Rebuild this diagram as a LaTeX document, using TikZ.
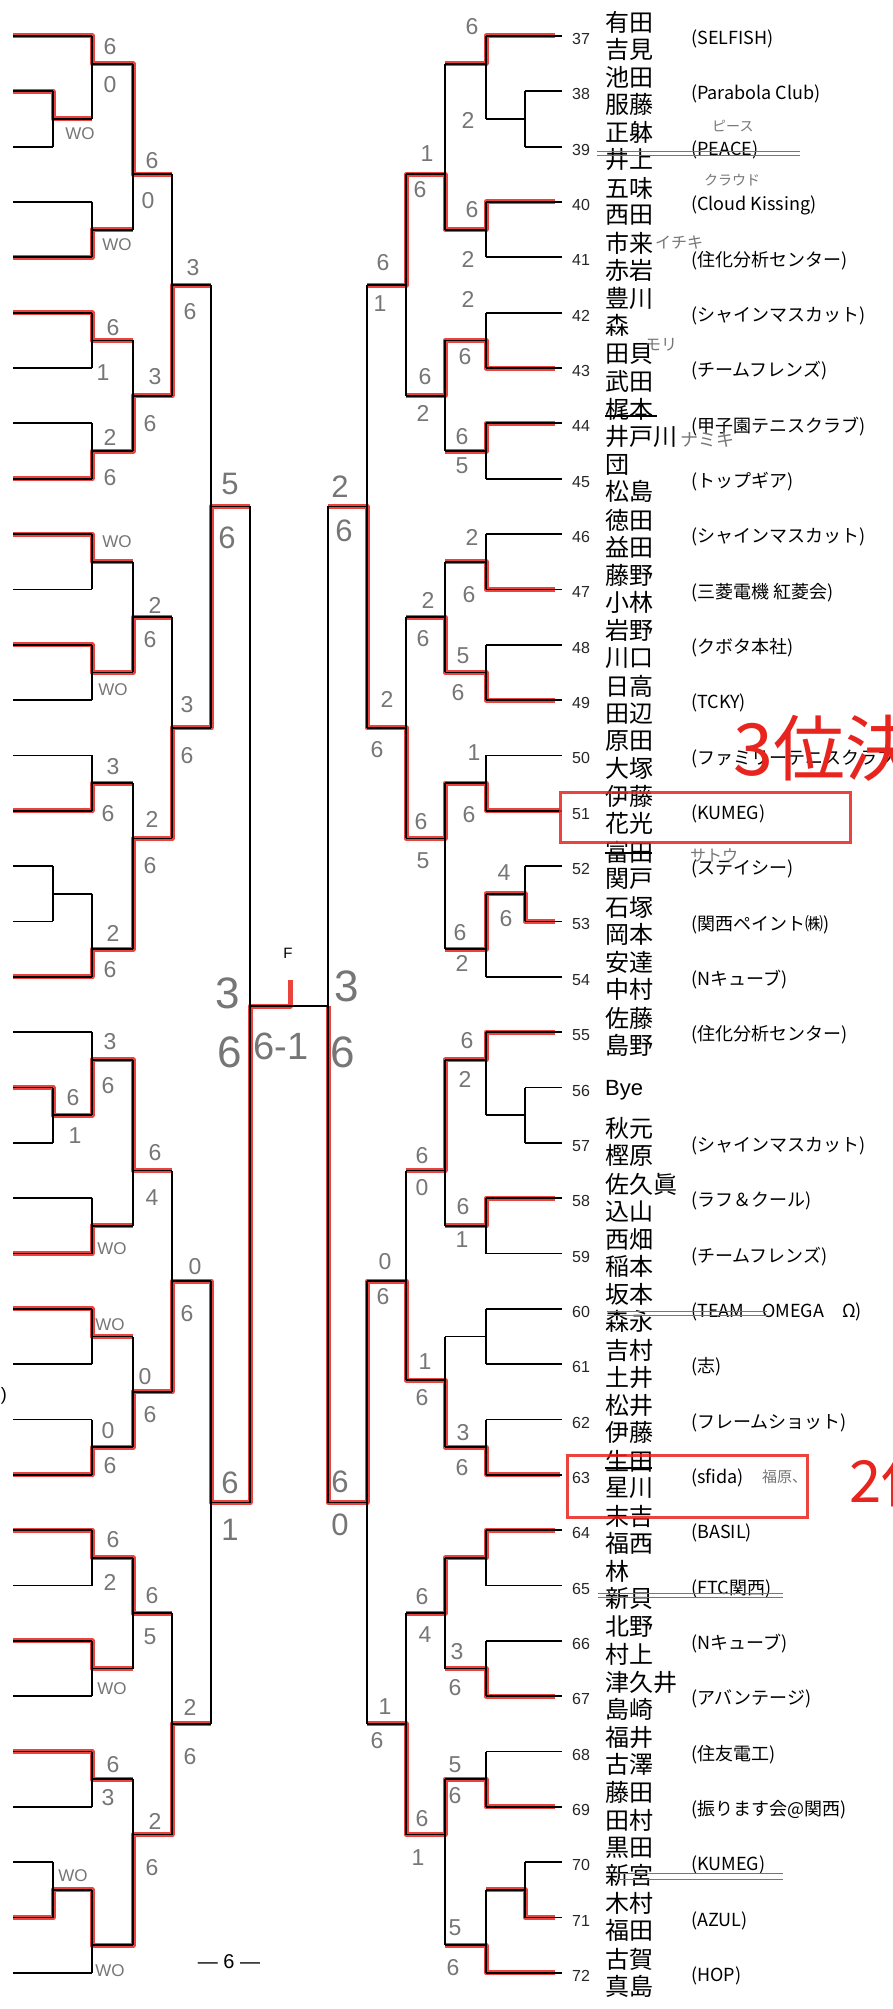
\documentclass[tikz,border=0pt]{standalone}
\usepackage{fontspec}
\setmainfont{Liberation Sans}
\newfontfamily\jp{Noto Sans CJK JP}
\definecolor{mkred}{RGB}{232,36,30}
\definecolor{pencil}{RGB}{118,118,118}
\def\jn(#1,#2,#3,#4,#5){\draw[ln] (#1,#2) -- (#1,#3) (#1,#4) -- (#5,#4);}

\tikzset{
  ln/.style={line width=1.8pt},
  hl/.style={line width=5pt, draw=mkred, line join=round, opacity=.85},
  sc/.style={text=pencil, inner sep=0pt, font=\fontsize{23}{23}\selectfont},
  scb/.style={sc, font=\fontsize{31}{31}\selectfont},
  scf/.style={sc, font=\fontsize{44}{44}\selectfont},
  wo/.style={sc, font=\fontsize{17}{17}\selectfont},
  num/.style={anchor=west, inner sep=0pt, text=black!85, font=\fontsize{16}{16}\selectfont},
  nm/.style={anchor=west, inner sep=0pt, font=\jp\fontsize{24}{24}\selectfont},
  tm/.style={anchor=west, inner sep=0pt, font=\jp\fontsize{18}{18}\selectfont},
  memo/.style={anchor=west, inner sep=0pt, text=pencil, font=\jp\fontsize{16}{16}\selectfont},
  strike/.style={draw=pencil, line width=0.9pt},
  boxr/.style={draw=mkred, line width=3pt, opacity=.85},
}

\begin{document}
\begin{tikzpicture}[x=1pt,y=-1pt]
%%%%% START %%%%%
\fill[white] (0,0) rectangle (893,2009);
\useasboundingbox (0,0) rectangle (893,2009);

% winners in red
\draw[hl] (13,36.0) -- (92,36.0) -- (92,63.7) -- (133,63.7) -- (133,174.4) -- (172,174.4);
\draw[hl] (13,91.3) -- (53,91.3) -- (53,119.0) -- (92,119.0);
\draw[hl] (13,257.4) -- (92,257.4) -- (92,229.7) -- (133,229.7);
\draw[hl] (13,312.7) -- (92,312.7) -- (92,340.4) -- (133,340.4);
\draw[hl] (13,478.7) -- (92,478.7) -- (92,451.1) -- (133,451.1) -- (133,395.7) -- (172,395.7) -- (172,285.0) -- (211,285.0);
\draw[hl] (13,534.1) -- (92,534.1) -- (92,561.7) -- (133,561.7);
\draw[hl] (13,644.7) -- (92,644.7) -- (92,672.4) -- (133,672.4) -- (133,617.1) -- (172,617.1);
\draw[hl] (13,810.8) -- (92,810.8) -- (92,783.1) -- (133,783.1);
\draw[hl] (13,976.8) -- (92,976.8) -- (92,949.1) -- (133,949.1) -- (133,838.4) -- (172,838.4) -- (172,727.8) -- (211,727.8) -- (211,506.4) -- (250,506.4);
\draw[hl] (13,1087.5) -- (53,1087.5) -- (53,1115.2) -- (92,1115.2) -- (92,1059.8) -- (133,1059.8) -- (133,1170.5) -- (172,1170.5);
\draw[hl] (13,1253.5) -- (92,1253.5) -- (92,1225.8) -- (133,1225.8);
\draw[hl] (13,1308.8) -- (92,1308.8) -- (92,1336.5) -- (133,1336.5);
\draw[hl] (13,1474.8) -- (92,1474.8) -- (92,1447.2) -- (133,1447.2) -- (133,1391.8) -- (172,1391.8) -- (172,1281.2) -- (211,1281.2) -- (211,1502.5) -- (250,1502.5) -- (250,1006) -- (290,1006) -- (290,980);
\draw[hl] (13,1530.2) -- (92,1530.2) -- (92,1557.9) -- (133,1557.9) -- (133,1613.2) -- (172,1613.2);
\draw[hl] (13,1640.9) -- (92,1640.9) -- (92,1668.5) -- (133,1668.5);
\draw[hl] (13,1751.5) -- (92,1751.5) -- (92,1779.2) -- (133,1779.2);
\draw[hl] (13,1917.6) -- (53,1917.6) -- (53,1889.9) -- (92,1889.9) -- (92,1945.3) -- (133,1945.3) -- (133,1834.5) -- (172,1834.5) -- (172,1723.9) -- (211,1723.9);

\draw[hl] (555,36.0) -- (486,36.0) -- (486,63.7) -- (445,63.7);
\draw[hl] (555,202.0) -- (486,202.0) -- (486,229.7) -- (445,229.7) -- (445,174.4) -- (406,174.4) -- (406,285.0) -- (367,285.0);
\draw[hl] (555,368.0) -- (486,368.0) -- (486,340.4) -- (445,340.4) -- (445,395.7) -- (406,395.7);
\draw[hl] (555,423.4) -- (486,423.4) -- (486,451.1) -- (445,451.1);
\draw[hl] (555,589.4) -- (486,589.4) -- (486,561.7) -- (445,561.7);
\draw[hl] (555,700.1) -- (486,700.1) -- (486,672.4) -- (445,672.4) -- (445,617.1) -- (406,617.1);
\draw[hl] (560,810.8) -- (486,810.8) -- (486,783.1) -- (445,783.1) -- (445,838.4) -- (406,838.4) -- (406,727.8) -- (367,727.8) -- (367,506.4) -- (328,506.4);
\draw[hl] (555,921.4) -- (525,921.4) -- (525,893.8) -- (486,893.8) -- (486,949.1) -- (445,949.1);
\draw[hl] (555,1032.1) -- (486,1032.1) -- (486,1059.8) -- (445,1059.8) -- (445,1170.5) -- (406,1170.5);
\draw[hl] (555,1198.1) -- (486,1198.1) -- (486,1225.8) -- (445,1225.8);
\draw[hl] (560,1474.8) -- (486,1474.8) -- (486,1447.2) -- (445,1447.2) -- (445,1380) -- (406,1380) -- (406,1281.2) -- (367,1281.2) -- (367,1502.5) -- (328,1502.5) -- (328,1006);
\draw[hl] (555,1530.2) -- (486,1530.2) -- (486,1557.9) -- (445,1557.9) -- (445,1613.2) -- (406,1613.2);
\draw[hl] (555,1696.2) -- (486,1696.2) -- (486,1668.5) -- (445,1668.5);
\draw[hl] (555,1806.9) -- (486,1806.9) -- (486,1779.2) -- (445,1779.2) -- (445,1834.5) -- (406,1834.5) -- (406,1723.9) -- (367,1723.9);
\draw[hl] (555,1917.6) -- (525,1917.6) -- (525,1889.9) -- (486,1889.9);
\draw[hl] (555,1972.9) -- (486,1972.9) -- (486,1945.3) -- (445,1945.3);

% draw lines, both halves (right half mirrored)
\foreach \k in {0,3,4,5,6,7,8,9,10,11,12,13,14,17,18,21,22,23,24,25,26,27,28,29,30,31,32,35}{
  \pgfmathsetmacro\yy{36+55.34*\k}
  \draw[ln] (13,\yy) -- (92,\yy) (486,\yy) -- (562,\yy);
}
\foreach \k in {1,2,15,16,19,20,33,34}{
  \pgfmathsetmacro\yy{36+55.34*\k}
  \draw[ln] (13,\yy) -- (53,\yy) (525,\yy) -- (562,\yy);
}
\foreach \a/\b/\c/\d/\e in {
  53/91.3/146.7/119.0/92, 53/866.1/921.4/893.8/92, 53/1087.5/1142.8/1115.2/92, 53/1862.2/1917.6/1889.9/92,
  92/36.0/119.0/63.7/133, 92/202.0/257.4/229.7/133, 92/312.7/368.0/340.4/133, 92/423.4/478.7/451.1/133,
  92/534.1/589.4/561.7/133, 92/644.7/700.1/672.4/133, 92/755.4/810.8/783.1/133, 92/893.8/976.8/949.1/133,
  92/1032.1/1115.2/1059.8/133, 92/1198.1/1253.5/1225.8/133, 92/1308.8/1364.2/1336.5/133, 92/1419.5/1474.8/1447.2/133,
  92/1530.2/1585.5/1557.9/133, 92/1640.9/1696.2/1668.5/133, 92/1751.5/1806.9/1779.2/133, 92/1889.9/1972.9/1945.3/133,
  133/63.7/229.7/174.4/172, 133/340.4/451.1/395.7/172, 133/561.7/672.4/617.1/172, 133/783.1/949.1/838.4/172,
  133/1059.8/1225.8/1170.5/172, 133/1557.9/1668.5/1613.2/172, 133/1779.2/1945.3/1834.5/172,
  172/174.4/395.7/285.0/211, 172/617.1/838.4/727.8/211, 172/1613.2/1834.5/1723.9/211,
  211/285.0/727.8/506.4/250, 211/1281.2/1723.9/1502.5/250}{
  \jn(\a,\b,\c,\d,\e)
  \jn(578-\a,\b,\c,\d,578-\e)
}
\jn(133,1336.5,1447.2,1391.8,172)
\jn(172,1170.5,1391.8,1281.2,211)
\jn(445,1336.5,1447.2,1380,406)
\jn(406,1170.5,1380,1281.2,367)
\draw[ln] (250,506.4) -- (250,1502.5) (328,506.4) -- (328,1502.5) (250,1006) -- (328,1006);
\node[font=\fontsize{15}{15}\selectfont, inner sep=0pt] (fin) at (288,953) {F};

% entries 37-72
\foreach \k/\no/\na/\nb/\tm in {
  0/37/有田/吉見/(SELFISH), 1/38/池田/服藤/(Parabola Club), 2/39/正躰/井上/(PEACE),
  3/40/五味/西田/(Cloud Kissing), 4/41/市来/赤岩/(住化分析センター), 5/42/豊川/森/(シャインマスカット),
  6/43/田貝/武田/(チームフレンズ), 7/44/梶本/井戸川/(甲子園テニスクラブ), 8/45/団/松島/(トップギア),
  9/46/徳田/益田/(シャインマスカット), 10/47/藤野/小林/(三菱電機 紅菱会), 11/48/岩野/川口/(クボタ本社),
  12/49/日高/田辺/(TCKY), 13/50/原田/大塚/(ファミリーテニスクラブ), 14/51/伊藤/花光/(KUMEG),
  15/52/富田/関戸/(ステイシー), 16/53/石塚/岡本/(関西ペイント㈱), 17/54/安達/中村/(Nキューブ),
  18/55/佐藤/島野/(住化分析センター), 20/57/秋元/樫原/(シャインマスカット), 21/58/佐久眞/込山/(ラフ＆クール),
  22/59/西畑/稲本/(チームフレンズ), 23/60/坂本/森永/(TEAM　OMEGA　Ω), 24/61/吉村/土井/(志),
  25/62/松井/伊藤/(フレームショット), 26/63/生田/星川/(sfida), 27/64/末吉/福西/(BASIL),
  28/65/林/新貝/(FTC関西), 29/66/北野/村上/(Nキューブ), 30/67/津久井/島崎/(アバンテージ),
  31/68/福井/古澤/(住友電工), 32/69/藤田/田村/(振ります会@関西), 33/70/黒田/新宮/(KUMEG),
  34/71/木村/福田/(AZUL), 35/72/古賀/真島/(HOP)}{
  \pgfmathsetmacro\yy{36+55.34*\k}
  \node[num] (no\no) at (572,\yy+3) {\no};
  \node[nm] (na\no) at (605,\yy-14) {\na};
  \node[nm] (nb\no) at (605,\yy+13) {\nb};
  \node[tm] (tm\no) at (691,\yy+3) {\tm};
}
\node[num] (no56) at (572,1090.5) {56};
\node[anchor=west, inner sep=0pt, font=\fontsize{22}{22}\selectfont] (bye) at (605,1090.5) {Bye};

% pencil scores
\foreach \x/\y/\lab [count=\i] in {
  110/47/6, 110/85/0, 152/161/6, 148/201/0, 113/328/6, 103/373/1, 110/437/2, 110/478/6,
  155/377/3, 150/424/6, 193/268/3, 190/312/6, 155/605/2, 150/640/6, 187/705/3, 187/756/6,
  113/767/3, 108/814/6, 152/819/2, 150/866/6, 113/933/2, 110/970/6, 110/1042/3, 108/1086/6,
  73/1098/6, 75/1136/1, 155/1153/6, 152/1198/4, 195/1267/0, 187/1314/6, 145/1377/0, 150/1415/6,
  108/1431/0, 110/1466/6, 113/1540/6, 110/1582/2, 152/1596/6, 150/1637/5, 190/1707/2, 190/1757/6,
  113/1765/6, 108/1798/3, 155/1821/2, 152/1868/6}
  \node[sc] (sl\i) at (\x,\y) {\lab};
\foreach \x/\y/\lab [count=\i] in {
  472/27/6, 468/120/2, 472/210/6, 468/259/2, 427/154/1, 420/190/6, 468/299/2, 465/357/6,
  462/437/6, 462/466/5, 425/377/6, 423/413/2, 383/263/6, 380/304/1, 472/537/2, 469/595/6,
  463/656/5, 458/693/6, 428/600/2, 423/639/6, 387/699/2, 377/750/6, 474/753/1, 469/815/6,
  421/822/6, 423/861/5, 504/873/4, 506/919/6, 460/933/6, 462/963/2,
  467/1041/6, 465/1079/2, 463/1207/6, 462/1240/1, 422/1156/6, 422/1188/0, 463/1433/3, 462/1468/6,
  425/1362/1, 422/1398/6, 385/1262/0, 383/1297/6, 457/1652/3, 455/1688/6, 422/1597/6, 425/1635/4,
  455/1765/5, 455/1796/6, 455/1928/5, 453/1968/6, 422/1819/6, 418/1858/1, 385/1707/1, 377/1741/6}
  \node[sc] (sr\i) at (\x,\y) {\lab};
\foreach \x/\y/\lab [count=\i] in {230/484/5, 227/538/6, 230/1483/6, 230/1530/1, 340/487/2, 344/531/6, 340/1482/6, 340/1525/0}
  \node[scb] (sb\i) at (\x,\y) {\lab};
\foreach \x/\y [count=\i] in {80/134, 117/245, 117/542, 113/690, 112/1249, 110/1325, 112/1689, 73/1876, 110/1971}
  \node[wo] (wo\i) at (\x,\y) {WO};
\node[scf] (fl3) at (228,993) {3};
\node[scf] (fl6) at (230,1052) {6};
\node[scf] (fr3) at (347,986) {3};
\node[scf] (fr6) at (343,1052) {6};
\node[sc, font=\fontsize{38}{38}\selectfont] (fsc) at (281,1046) {6-1};

% pencil notes and strike-outs
\node[memo, font=\jp\fontsize{14}{14}\selectfont] (m39) at (712,126) {ピース};
\node[memo, font=\jp\fontsize{14}{14}\selectfont] (m40) at (704,180) {クラウド};
\node[memo] (m41) at (655,243) {イチキ};
\node[memo] (m42) at (645,345) {モリ};
\node[memo, font=\jp\fontsize{18}{18}\selectfont] (m44) at (680,440) {ナミキ};
\node[memo] (m52) at (690,855) {サトウ};
\node[memo, font=\jp\fontsize{15}{15}\selectfont] (m63) at (762,1477) {福原、};
\draw[strike] (597,151) -- (800,151) (597,155.5) -- (800,155.5);
\draw[strike] (607,1311) -- (767,1311) (607,1315) -- (767,1315);
\draw[strike] (598,1593) -- (783,1593) (598,1597) -- (783,1597);
\draw[strike] (617,1873) -- (783,1873) (617,1879) -- (783,1879);
\draw[line width=1.5pt] (605,416) -- (657,416) (605,853) -- (652,853) (605,1468) -- (652,1468);

% red marks
\draw[boxr] (560,792) rectangle (850,842);
\draw[boxr] (567,1455) rectangle (807,1517);
\node[anchor=west, inner sep=0pt, text=mkred, font=\jp\fontsize{72}{72}\selectfont] (third) at (733,748) {3位決};
\node[anchor=west, inner sep=0pt, text=mkred, font=\jp\fontsize{58}{58}\selectfont] (second) at (849,1480) {2位};

\node[anchor=east, inner sep=0pt, font=\fontsize{18}{18}\selectfont] (cut) at (7,1396) {)};
\node[inner sep=0pt, font=\fontsize{20}{20}\selectfont] (page) at (229,1962) {— 6 —};
%%%%% END %%%%%
\end{tikzpicture}
\end{document}
